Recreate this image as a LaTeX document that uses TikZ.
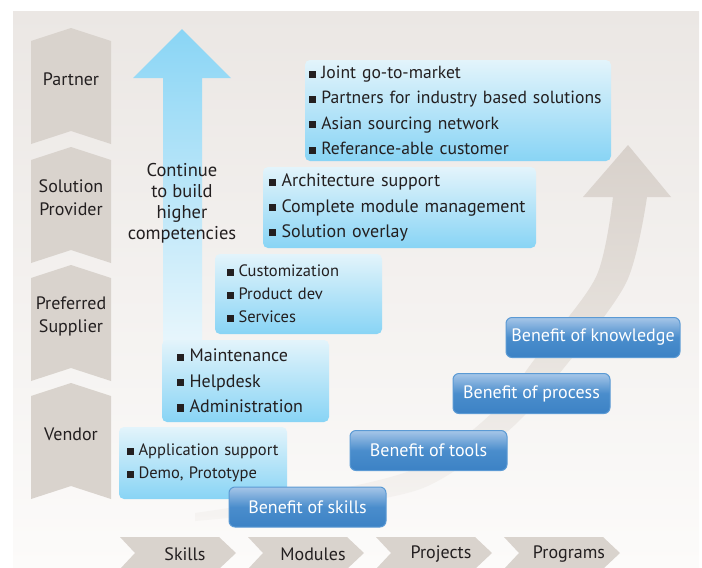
\documentclass[tikz,border=0pt]{standalone}
\usepackage{fontspec}
\setmainfont{PT Sans}
\usetikzlibrary{positioning}

\definecolor{bgtop}{HTML}{EBE7E4}
\definecolor{bgbot}{HTML}{FCFBFA}
\definecolor{chev}{HTML}{D9D3CD}
\definecolor{boxtop}{HTML}{E3F4FB}
\definecolor{boxbot}{HTML}{88D4F5}
\definecolor{btnhi}{HTML}{A6C6E8}
\definecolor{btnmid}{HTML}{4A8DCC}
\definecolor{btnbot}{HTML}{3C82C5}
\definecolor{btnrim}{HTML}{5B9AD4}
\definecolor{arrtop}{HTML}{8AD5F5}
\definecolor{arrbot}{HTML}{E8F6FC}
\definecolor{curvtop}{HTML}{D8D1CB}
\definecolor{curvmid}{HTML}{E6E1DC}
\definecolor{curvbot}{HTML}{F6F4F2}
\definecolor{txt}{HTML}{231F20}

\newcommand{\bul}{\rule[0.05em]{0.4em}{0.4em}\hspace{0.3em}}

\begin{document}
\begin{tikzpicture}[
    x=1pt, y=-1pt,
    level/.style={font=\fontsize{18}{23}\selectfont, text=txt, align=center},
    stage/.style={font=\fontsize{18}{20}\selectfont, text=txt},
    infobox/.style={rectangle, rounded corners=5pt, top color=boxtop, bottom color=boxbot, text=txt, align=left, inner ysep=2pt, font=\fontsize{18}{25.3}\selectfont},
    smallbox/.style={infobox, font=\fontsize{16.5}{23}\selectfont},
    benefit/.style={rectangle, rounded corners=6pt, draw=btnrim, line width=1pt, top color=btnhi, bottom color=btnbot, middle color=btnmid, text=white, minimum width=157pt, minimum height=40pt, font=\fontsize{18}{20}\selectfont}
]
\useasboundingbox (0,0) rectangle (702,568);

% Background
\shade[top color=bgtop, bottom color=bgbot] (13,11) rectangle (699,568);

% Levels
\foreach \ya/\lbl [count=\i] in {28/Partner, 147/{Solution\\Provider}, 265/{Preferred\\Supplier}, 383/Vendor}{
  \fill[chev] (31,\ya+13) -- (71,\ya) -- (111,\ya+13) -- (111,\ya+116) -- (71,\ya+103) -- (31,\ya+116) -- cycle;
  \node[level] (lvl\i) at (71,\ya+51) {\lbl};
}

% Stages
\foreach \xa/\lbl [count=\i] in {120/Skills, 248/Modules, 376/Projects, 504/Programs}{
  \fill[chev] (\xa,537) -- (\xa+99,537) -- (\xa+116,553) -- (\xa+99,569) -- (\xa,569) -- (\xa+15,553) -- cycle;
  \node[stage] (stg\i) at (\xa+65,554) {\lbl};
}

% Competency arrow
\shade[top color=arrtop, bottom color=arrbot] (163,345) -- (163,78) -- (133,78) -- (182,29) -- (231,78) -- (202,78) -- (202,345) -- cycle;
\node[level, font=\fontsize{18.5}{21}\selectfont] (grow) at (182,203.5) {Continue\\to build\\higher\\competencies};

% Curved arrow
\shade[top color=curvtop, bottom color=curvbot, middle color=curvmid] (583,197) -- (628,145) -- (671,197) -- (647,197)
  -- plot[smooth] coordinates {(647,197) (626,283) (559,374) (508,431) (423,488) (311,509) (195,521)}
  -- plot[smooth] coordinates {(195,513) (309,495) (417,468) (492,413) (537,356) (596,277) (613,197)}
  -- cycle;

% Offer boxes
\node[infobox, font=\fontsize{17.6}{25.3}\selectfont, text width=298pt, inner xsep=4pt, minimum height=101pt] (partnerbox) at (458,110.5)
  {\bul Joint go-to-market\\ \bul Partners for industry based solutions\\ \bul Asian sourcing network\\ \bul Referance-able customer};
\node[infobox, text width=261pt, inner xsep=6pt, minimum height=81pt] (solutionbox) at (399.5,207.5)
  {\bul Architecture support\\ \bul Complete module management\\ \bul Solution overlay};
\node[smallbox, text width=143pt, inner xsep=12pt, minimum height=80pt] (supplierbox) at (298.5,294)
  {\bul Customization\\ \bul Product dev\\ \bul Services};
\node[infobox, text width=137pt, inner xsep=15pt, minimum height=82pt] (vendorbox) at (245.5,381)
  {\bul Maintenance\\ \bul Helpdesk\\ \bul Administration};
\node[smallbox, text width=152pt, inner xsep=8pt, minimum height=72pt] (startbox) at (203,463)
  {\bul Application support\\ \bul Demo, Prototype};

% Benefits
\node[benefit] (skills) at (307.5,507) {Benefit of skills};
\node[benefit] (tools) at (428.5,450.5) {Benefit of tools};
\node[benefit] (process) at (531.5,393.5) {Benefit of process};
\node[benefit, minimum width=174pt] (knowledge) at (593,337.5) {Benefit of knowledge};

\end{tikzpicture}
\end{document}
